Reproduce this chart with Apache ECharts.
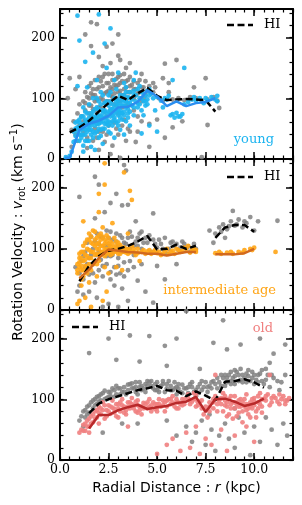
<!DOCTYPE html>
<html><head><meta charset="utf-8">
<script src="https://cdn.jsdelivr.net/npm/echarts@6/dist/echarts.min.js"></script>
<style>html,body{margin:0;padding:0;background:#fff}#c{width:302px;height:505px}</style>
</head><body><div id="c"></div>
<script>
// ---------- tick labels ----------
const radialTicks = ['0.0', '2.5', '5.0', '7.5', '10.0'];
const velocityTicks = [0, 100, 200];

// ---------- panel 1 : young ----------
const hiYoung = [[0.5,44],[1.0,52],[1.5,63],[2.0,78],[2.5,92],[3.0,104],[3.5,97],[4.0,108],[4.5,117],[5.0,104],[5.5,97],[6.0,98],[6.5,99],[7.0,98],[7.5,97],[8.0,78]];
const curveYoung = [[0.25,2],[0.5,2],[1.0,48],[1.5,58],[2.0,63],[2.5,71],[3.0,85],[3.5,86],[4.0,94],[4.5,113],[5.0,103],[5.5,87],[6.0,95],[6.5,87],[7.0,92],[7.5,94],[8.0,100]];
const grayYoung = [[0.5,133],[0.6,48],[0.7,62],[0.8,40],[0.9,75],[1.0,55],[0.9,30],[0.6,20],[1.0,90],
[1.1,70],[1.2,95],[1.2,45],[1.3,80],[1.3,110],[1.4,60],[1.4,35],[1.5,100],[1.5,75],
[1.6,125],[1.6,88],[1.7,65],[1.7,105],[1.8,50],[1.8,95],[1.9,115],[1.9,78],[2.0,135],[2.0,60],
[2.1,100],[2.1,85],[2.2,120],[2.2,45],[2.3,92],[2.3,140],[2.4,70],[2.4,110],[2.5,125],[2.5,95],[2.5,55],
[2.6,105],[2.6,80],[2.7,130],[2.7,115],[2.8,90],[2.8,60],[2.9,120],[2.9,100],[3.0,110],[3.0,75],[3.0,135],
[3.1,95],[3.1,125],[3.2,105],[3.2,85],[3.3,115],[3.3,65],[3.4,100],[3.4,128],[3.5,110],[3.5,90],
[3.6,120],[3.7,100],[3.8,115],[3.8,80],[3.9,105],[4.0,125],[4.1,110],[4.2,95],[4.3,118],[4.4,105],[4.5,112],
[4.7,108],[4.9,118],[5.1,100],[5.3,96],[5.6,110],[5.8,98],[6.1,100],[6.4,97],[6.7,102],[7.0,100],[7.3,96],[7.6,98],[7.9,102],[8.1,96],[8.2,84],
[1.0,135],[1.3,205],[1.6,225],[1.9,222],[1.6,186],[2.4,185],[2.7,190],[3.0,205],[2.6,158],[2.2,153],[3.1,163],[3.4,150],[3.6,158],[3.0,170],[2.0,168],[4.2,140],[0.4,100],[0.8,115],
[5.4,157],[6.0,163],[5.3,133],[5.6,125],[7.5,133],[6.9,118],[4.8,125],[7.6,56],[5.8,52],[5.0,65],[4.6,58],[6.3,62],[4.0,45],[5.4,35],[7.3,3],[3.1,2],[2.6,8],[2.0,15],[1.4,18],[1.7,30],[2.3,28],[3.0,40],[3.5,50],[4.2,62],[3.9,28],[4.6,20]];
const grayYoungCore = [[1.2,62],[1.3,92],[1.4,102],[1.5,88],[1.5,120],[1.6,70],[1.6,108],[1.7,115],[1.7,82],[1.8,130],[1.8,105],[1.9,98],[1.9,68],[2.0,118],[2.0,85],[2.1,128],[2.1,65],[2.2,98],[2.2,135],[2.3,108],[2.3,78],[2.4,125],[2.4,95],[2.5,112],[2.5,140],[2.6,118],[2.6,92],[2.7,102],[2.7,140],[2.8,122],[2.8,108],[2.9,88],[2.9,132],[3.0,122],[3.0,95],[3.1,112],[3.1,138],[3.2,128],[3.2,98],[3.3,105],[3.3,140],[3.4,118],[3.4,88],[3.5,130],[3.5,100],[3.6,110],[3.6,135],[3.7,122],[3.8,128],[3.8,100],[3.9,115],[4.0,108],[4.1,130],[4.2,118],[4.3,100],[4.4,128],[4.6,120],[4.8,110],[2.0,45],[2.4,40],[2.9,50],[3.2,55],[3.6,45],[4.0,70],[3.4,30],[2.7,22],[1.9,35]];
const youngStars = [[0.3,3],[0.5,5],[0.6,12],[0.7,28],[0.8,38],[0.8,60],[0.9,45],[1.0,30],[1.0,52],[1.1,70],[1.1,40],[1.2,58],[1.2,85],[1.3,48],[1.3,65],[1.4,30],[1.4,75],[1.5,55],[1.5,90],[1.6,62],[1.6,40],[1.7,78],[1.7,100],[1.8,55],[1.8,68],[1.9,85],[1.9,45],[2.0,72],[2.0,95],[2.1,60],[2.1,110],[2.2,80],[2.2,50],[2.3,68],[2.3,92],[2.4,75],[2.4,58],[2.5,88],[2.5,105],[2.6,70],[2.6,95],[2.7,62],[2.7,82],[2.8,100],[2.8,75],[2.9,90],[2.9,115],[3.0,80],[3.0,98],[3.1,68],[3.1,105],[3.2,88],[3.3,95],[3.3,78],[3.4,110],[3.5,92],[3.5,82],[3.6,100],[3.7,88],[3.8,105],[3.9,95],[4.0,115],[4.1,90],[4.2,100],[4.3,108],[4.4,95],[4.5,112],[4.6,105],[4.8,100],[5.0,102],[5.2,96],[5.4,100],[5.6,104],[5.7,72],[5.9,68],[6.0,76],[6.2,70],[6.4,90],[6.6,94],[6.8,98],[7.0,96],[7.2,100],[7.4,92],[7.6,96],[7.8,102],[8.0,98],[8.1,104],
[1.0,195],[1.7,175],[2.3,190],[2.0,238],[0.9,120],[1.4,118],[1.9,130],[2.8,130],[3.3,125],[3.0,142],[3.8,130],[3.9,142],[4.3,72],[3.6,55],[4.6,55],[5.0,45],[6.4,150],[5.8,130],[1.2,12],[1.6,20],[2.2,25],[2.8,35],[3.3,40],[4.2,42],[2.4,150],[1.3,160],[4.9,80],[5.3,85],[2.6,215],[0.9,236]];
const youngCore = [[0.7,45],[0.8,50],[0.9,62],[1.0,40],[1.0,60],[1.1,55],[1.1,48],[1.2,70],[1.2,40],[1.3,58],[1.3,78],[1.4,52],[1.4,62],[1.5,68],[1.5,48],[1.6,75],[1.6,55],[1.7,60],[1.7,45],[1.8,82],[1.8,62],[1.9,72],[1.9,58],[2.0,65],[2.0,50],[2.0,82],[2.1,70],[2.1,90],[2.2,62],[2.2,75],[2.3,58],[2.3,80],[2.4,68],[2.4,95],[2.5,62],[2.5,78],[2.6,82],[2.6,60],[2.7,90],[2.7,72],[2.8,85],[2.8,65],[2.9,78],[2.9,95],[3.0,88],[3.0,72],[3.1,92],[3.1,80],[3.2,98],[3.2,75],[3.3,88],[3.3,105],[3.4,85],[3.4,95],[3.5,102],[3.5,75],[3.6,92],[3.6,110],[3.7,98],[3.8,85],[3.8,112],[3.9,105],[4.0,92],[4.1,100],[4.2,110],[4.3,95],[4.4,104],[4.5,98],[4.6,115],[4.7,108],[1.5,30],[2.0,35],[2.5,45],[3.0,55],[1.2,22],[1.8,15],[5.8,74],[6.1,70],[6.3,74],[5.5,98],[6.9,102],[7.5,100],[8.1,95]];
const youngCore2 = [[0.8,30],[0.9,52],[1.0,65],[1.1,35],[1.2,50],[1.3,40],[1.4,45],[1.5,62],[1.6,48],[1.7,70],[1.8,42],[1.9,65],[2.0,58],[2.1,48],[2.2,68],[2.3,50],[2.4,62],[2.5,55],[2.6,75],[2.7,55],[2.8,68],[2.9,60],[3.0,62],[3.1,75],[3.2,65],[3.3,72],[3.4,62],[3.5,68],[3.6,78],[3.8,72],[4.0,85],[4.2,80],[4.4,88],[1.3,30],[1.7,35],[2.1,38],[2.6,42],[3.1,48],[1.9,100],[2.2,105],[2.6,110],[3.4,118],[4.1,120],[4.5,90]];

// ---------- panel 2 : intermediate age ----------
const hiInter = [[1.0,47],[1.5,72],[2.0,88],[2.5,97],[3.0,100],[3.5,105],[4.0,112],[4.5,121],[5.0,99],[5.5,100],[6.0,107],[6.5,100],[7.0,105],[7.5,null],[8.0,118],[8.5,135],[9.0,139],[9.5,139],[10.0,128]];
const curveInter = [[1.0,52],[1.5,66],[2.0,85],[2.5,99],[3.0,97],[3.5,95],[4.0,94],[4.5,92],[5.0,92],[5.5,89],[6.0,92],[6.5,95],[7.0,95],[7.5,null],[8.0,91],[8.5,91],[9.0,91],[9.5,93],[10.0,100]];
const grayInter = [[0.9,30],[1.0,40],[1.0,60],[1.1,80],[1.2,50],[1.3,95],[1.3,70],[1.4,110],[1.5,58],[1.5,85],[1.6,120],[1.7,75],[1.7,100],[1.8,45],[1.9,90],[1.9,125],[2.0,65],[2.0,108],[2.1,82],[2.2,118],[2.2,55],[2.3,95],[2.4,130],[2.4,75],[2.5,105],[2.6,88],[2.6,62],[2.7,115],[2.8,98],[2.8,70],[2.9,125],[3.0,85],[3.0,105],[3.1,60],[3.2,95],[3.2,118],[3.3,78],[3.4,108],[3.5,65],[3.6,100],[3.7,120],[3.8,90],[3.9,112],[4.0,105],[4.1,125],[4.2,100],[4.4,118],[4.5,110],[4.7,95],[4.9,108],[5.1,115],[5.3,100],[5.5,92],[5.7,110],[5.9,105],[6.1,98],[6.3,112],[6.5,100],[6.7,95],[6.9,108],[7.0,100],
[7.7,130],[8.0,125],[8.2,135],[8.4,140],[8.6,132],[8.8,145],[9.0,138],[9.2,148],[9.4,135],[9.6,142],[9.8,152],[10.0,130],[8.9,162],[10.2,145],[11.2,146],[7.9,110],
[1.0,185],[1.8,218],[2.0,205],[3.3,237],[3.4,228],[2.9,190],[3.2,171],[2.3,160],[3.5,172],[4.8,158],[2.6,175],[1.8,150],[3.9,145],[0.8,70],
[1.5,30],[1.9,20],[2.2,5],[2.5,10],[3.0,5],[3.5,15],[4.8,12],[4.4,30],[5.4,50],[3.2,35],[2.8,40],[4.0,48],[6.0,75],[5.0,72],[1.2,25]];
const grayInterCore = [[1.2,88],[1.4,75],[1.6,90],[1.8,112],[2.0,95],[2.1,120],[2.3,105],[2.5,118],[2.6,128],[2.7,90],[2.9,112],[3.1,122],[3.3,110],[3.5,118],[3.6,128],[3.8,105],[4.0,118],[4.2,128],[4.3,110],[4.6,122],[4.8,115],[5.0,102],[5.2,108],[5.4,118],[5.6,100],[5.8,112],[6.0,108],[6.2,102],[6.4,108],[6.6,104],[6.8,100],[2.2,72],[2.6,50],[2.9,58],[3.3,55],[3.6,80],[4.2,75],[1.7,60],[2.4,88],[3.0,72],[3.8,70],[8.3,128],[8.7,137],[9.1,140],[9.5,145],[8.5,118]];
const interStars = [[0.9,75],[0.9,60],[1.0,70],[1.0,85],[1.1,65],[1.1,95],[1.2,80],[1.2,105],[1.3,72],[1.3,90],[1.4,115],[1.4,100],[1.5,85],[1.5,125],[1.6,95],[1.6,110],[1.7,75],[1.7,130],[1.8,105],[1.8,90],[1.9,118],[1.9,100],[2.0,80],[2.0,110],[2.1,125],[2.1,95],[2.2,105],[2.2,135],[2.3,88],[2.3,115],[2.4,100],[2.4,122],[2.5,95],[2.5,108],[2.6,112],[2.6,90],[2.7,100],[2.8,118],[2.8,95],[2.9,105],[3.0,92],[3.0,110],[3.1,98],[3.2,102],[3.3,95],[3.4,100],[3.5,92],[3.6,98],[3.7,105],[3.8,95],[3.9,90],[4.0,100],[4.2,95],[4.4,92],[4.6,98],[4.8,95],[5.0,93],[5.2,90],[5.4,96],[5.6,92],[5.8,97],[6.0,100],[6.2,95],[6.4,102],[6.6,105],[6.8,98],[7.0,95],[8.0,93],[8.3,92],[8.6,94],[8.9,92],[9.2,95],[9.5,98],[9.8,100],[10.0,102],[11.1,95],
[2.3,240],[3.3,225],[3.6,195],[3.7,180],[2.0,190],[2.3,205],[1.2,145],[0.9,10],[1.0,15],[1.6,5],[1.3,20],[2.2,15],[2.4,30],[1.5,45],[1.9,55],[2.5,60],[2.9,70],[1.1,40],[3.2,65],[3.5,125],[2.7,142],[4.1,80],[2.0,160]];
const interCore = [[0.9,65],[1.0,78],[1.0,92],[1.1,72],[1.1,85],[1.2,65],[1.2,95],[1.3,82],[1.3,110],[1.4,88],[1.4,70],[1.5,98],[1.5,115],[1.5,75],[1.6,85],[1.6,120],[1.7,95],[1.7,108],[1.8,115],[1.8,80],[1.8,128],[1.9,92],[1.9,108],[2.0,100],[2.0,122],[2.0,90],[2.1,105],[2.1,115],[2.2,95],[2.2,120],[2.3,100],[2.3,108],[2.4,92],[2.4,112],[2.5,100],[2.5,118],[2.6,98],[2.6,104],[2.7,108],[2.7,92],[2.8,102],[2.9,96],[2.9,112],[3.0,100],[3.1,92],[3.1,106],[3.2,96],[3.3,102],[3.4,94],[3.5,100],[3.6,94],[3.8,100],[4.0,93],[4.3,98],[4.5,96],[4.7,92],[4.9,98],[5.1,95],[5.3,92],[5.5,100],[5.7,95],[5.9,92],[6.1,98],[6.3,96],[6.5,100],[6.7,94],[6.9,100],[7.0,98],[8.2,95],[8.8,95],[9.4,94],[9.9,98],[1.2,55],[1.4,60],[1.6,65],[1.1,50],[1.9,75],[2.3,70]];

// ---------- panel 3 : old ----------
const hiOld = [[1.5,77],[2.0,93],[2.5,100],[3.0,105],[3.5,110],[4.0,115],[4.5,118],[5.0,122],[5.5,115],[6.0,114],[6.5,105],[7.0,113],[7.5,106],[8.0,98],[8.5,129],[9.0,130],[9.5,133],[10.0,128],[10.5,119]];
const curveOld = [[1.5,52],[2.0,74],[2.5,74],[3.0,82],[3.5,87],[4.0,91],[4.5,84],[5.0,87],[5.5,89],[6.0,94],[6.5,96],[7.0,104],[7.5,79],[8.0,100],[8.5,101],[9.0,96],[9.5,89],[10.0,93],[10.5,101]];
const grayOld = [[1.0,65],[1.1,72],[1.2,80],[1.3,70],[1.4,88],[1.5,78],[1.6,95],[1.7,85],[1.8,100],[1.9,92],[2.0,105],[2.1,98],[2.2,110],[2.4,102],[2.5,112],[2.6,105],[2.8,115],[2.9,108],[3.0,118],[3.2,112],[3.3,120],[3.5,115],[3.6,125],[3.8,118],[3.9,128],[4.1,120],[4.2,115],[4.4,125],[4.5,130],[4.7,122],[4.8,118],[5.0,128],[5.1,120],[5.3,125],[5.5,118],[5.7,122],[5.8,115],[6.0,120],[6.2,112],[6.4,118],[6.6,110],[6.8,120],[7.0,115],[7.2,125],[7.4,120],[7.6,112],[7.8,118],[8.0,125],[8.2,128],[8.4,135],[8.5,122],[8.7,140],[8.8,130],[9.0,138],[9.1,145],[9.3,132],[9.4,140],[9.6,128],[9.7,148],[9.9,135],[10.0,125],[10.2,140],[10.4,130],[10.6,150],[10.8,120],[11.0,135],[11.3,115],[11.6,140],
[1.2,55],[4.0,60],[5.5,65],[6.0,40],[6.5,55],[6.8,30],[7.0,45],[7.3,65],[7.5,25],[7.8,50],[8.0,15],[8.2,40],[8.5,60],[8.7,35],[9.0,20],[9.2,70],[9.5,45],[9.8,8],[10.0,55],[10.3,30],[10.6,70],[10.9,50],[11.2,25],[11.5,60],[11.7,40],[3.2,60],[2.2,45],[7.7,75],[9.0,85],
[1.5,176],[2.5,200],[3.6,205],[4.6,204],[5.4,188],[6.0,200],[7.9,193],[8.6,182],[9.3,190],[8.4,230],[10.3,200],[11.6,190],[6.5,245],[4.1,162],[11.0,175],[2.9,165],[5.5,155],[10.8,160],[7.2,150]];
const grayOldCore = [[1.3,82],[1.5,90],[1.7,98],[1.9,104],[2.1,108],[2.3,114],[2.5,104],[2.7,118],[2.9,122],[3.1,108],[3.3,112],[3.5,124],[3.7,118],[3.9,112],[4.1,128],[4.3,118],[4.5,122],[4.7,130],[4.9,125],[5.1,112],[5.3,130],[5.5,125],[5.7,115],[5.9,128],[6.1,118],[6.3,124],[6.5,118],[6.7,125],[6.9,112],[7.1,120],[7.3,115],[7.5,128],[7.7,122],[7.9,130],[8.1,118],[8.3,122],[8.5,140],[8.6,128],[8.8,145],[8.9,135],[9.0,125],[9.2,140],[9.3,150],[9.5,135],[9.6,142],[9.8,130],[9.9,145],[10.1,132],[10.3,142],[10.5,125],[10.7,140],[11.2,130],[7.0,105],[6.0,108],[5.0,115],[4.0,108]];
const grayOldBand2 = [[1.4,75],[1.8,90],[2.0,96],[2.3,100],[2.6,112],[2.8,104],[3.1,118],[3.4,108],[3.7,126],[3.9,120],[4.2,122],[4.4,112],[4.6,128],[4.9,115],[5.2,122],[5.4,112],[5.6,130],[5.9,118],[6.1,125],[6.3,110],[6.6,120],[6.8,128],[7.1,110],[7.3,130],[7.6,120],[7.8,128],[8.1,135],[8.3,140],[8.6,135],[8.8,125],[9.0,148],[9.2,130],[9.4,128],[9.7,138],[10.0,140],[10.2,128],[10.4,148],[10.6,132],[10.9,140],[11.4,128]];
const oldStars = [[1.0,45],[1.1,50],[1.2,58],[1.3,48],[1.4,65],[1.5,55],[1.6,72],[1.7,62],[1.8,80],[1.9,70],[2.0,88],[2.1,75],[2.2,95],[2.3,68],[2.4,82],[2.5,90],[2.6,76],[2.7,98],[2.8,84],[2.9,72],[3.0,92],[3.1,80],[3.2,100],[3.3,88],[3.4,75],[3.5,95],[3.6,85],[3.7,102],[3.8,90],[3.9,80],[4.0,98],[4.1,88],[4.2,75],[4.3,94],[4.5,85],[4.6,100],[4.7,80],[4.9,92],[5.0,86],[5.1,100],[5.3,90],[5.4,80],[5.5,98],[5.7,92],[5.8,105],[6.0,95],[6.1,85],[6.3,100],[6.4,92],[6.6,108],[6.7,98],[6.9,110],[7.0,100],[7.1,90],[7.3,85],[7.4,75],[7.6,70],[7.7,88],[7.9,95],[8.0,105],[8.1,80],[8.2,98],[8.4,110],[8.5,90],[8.6,72],[8.7,100],[8.8,85],[8.9,68],[9.0,105],[9.1,92],[9.2,78],[9.3,100],[9.4,62],[9.5,88],[9.6,108],[9.7,75],[9.8,95],[9.9,85],[10.0,102],[10.1,70],[10.2,95],[10.3,110],[10.4,88],[10.5,100],[10.7,108],[10.9,95],[11.1,102],[11.3,92],[11.5,105],[11.7,98],
[5.0,10],[5.5,25],[5.8,35],[6.2,15],[6.5,45],[6.7,20],[7.0,55],[7.2,10],[7.5,35],[7.8,25],[8.3,50],[8.6,15],[9.0,40],[9.6,55],[10.0,30],[3.5,55],[8.0,140],[10.8,140]];
const oldCore = [[1.2,48],[1.4,55],[1.6,60],[1.8,68],[2.0,78],[2.2,82],[2.4,72],[2.6,88],[2.8,78],[3.0,85],[3.2,90],[3.4,82],[3.6,95],[3.8,85],[4.0,90],[4.2,88],[4.4,92],[4.6,88],[4.8,95],[5.0,92],[5.2,88],[5.4,95],[5.6,100],[5.8,95],[6.0,100],[6.2,92],[6.4,98],[6.6,102],[6.8,96],[7.0,108],[7.2,96],[7.5,82],[7.7,95],[7.9,100],[8.1,92],[8.3,102],[8.4,80],[8.5,98],[8.6,88],[8.7,75],[8.8,105],[8.9,95],[9.0,85],[9.1,72],[9.2,98],[9.3,88],[9.4,80],[9.5,100],[9.6,92],[9.7,85],[9.8,70],[9.9,100],[10.0,90],[10.1,80],[10.2,105],[10.3,92],[10.4,78],[10.6,98],[10.8,90],[11.0,105],[11.2,96],[11.4,100],[11.6,92],[11.8,102],[3.0,70],[4.0,78],[5.0,80],[6.0,85],[7.0,88],[2.0,60],[1.5,45]];
const oldBand2 = [[1.3,60],[1.5,68],[1.7,75],[1.9,82],[2.1,85],[2.3,90],[2.5,80],[2.7,86],[2.9,92],[3.1,95],[3.3,78],[3.5,88],[3.7,92],[3.9,96],[4.1,82],[4.3,85],[4.5,95],[4.7,90],[4.9,84],[5.1,92],[5.3,98],[5.5,88],[5.7,100],[5.9,88],[6.1,95],[6.3,90],[6.5,102],[6.7,92],[6.9,100],[7.1,95],[7.3,98],[7.5,88],[7.7,80],[7.9,85],[8.1,100],[8.3,92],[8.5,105],[8.6,95],[8.8,92],[9.0,95],[9.2,88],[9.4,95],[9.6,82],[9.8,88],[10.0,96],[10.2,85],[10.4,100],[10.6,105],[10.9,102],[11.3,108],[11.6,98]];

// ---------- layout / styles ----------
const grids = [
  {left: 60, width: 233, top: 9, height: 150},
  {left: 60, width: 233, top: 159, height: 151},
  {left: 60, width: 233, top: 310, height: 150}
];
const serif = 'DejaVu Serif';
const sans = 'DejaVu Sans';

const xAxes = [], yAxes = [];
function axisBase(g, extra) {
  return Object.assign({
    gridIndex: g, type: 'value', splitLine: {show: false},
    axisLine: {show: false, onZero: false, lineStyle: {color: '#000', width: 2}},
    axisTick: {show: true, inside: true, length: 7, lineStyle: {color: '#000', width: 1.5}},
    axisLabel: {show: false}
  }, extra);
}
const frameLine = {show: true, onZero: false, lineStyle: {color: '#000', width: 2}};
const minorTick = {show: true, inside: true, length: 3.5, lineStyle: {color: '#000', width: 1.2}};
grids.forEach((gr, g) => {
  const showX = g === grids.length - 1;
  xAxes.push(axisBase(g, {min: 0, max: 12, interval: 2.5, position: 'bottom', axisLine: frameLine,
    axisLabel: {show: showX, showMaxLabel: false, margin: 3, fontFamily: serif, fontSize: 12.5, color: '#000',
      formatter: v => radialTicks[Math.round(v / 2.5)] || ''}}));
  xAxes.push(axisBase(g, {min: 0, max: 12, interval: 0.5, position: 'bottom', axisTick: minorTick}));
  xAxes.push(axisBase(g, {min: 0, max: 12, interval: 2.5, position: 'top', axisLine: frameLine}));
  xAxes.push(axisBase(g, {min: 0, max: 12, interval: 0.5, position: 'top', axisTick: minorTick}));

  yAxes.push(axisBase(g, {min: 0, max: 247, interval: 100, position: 'left', axisLine: frameLine,
    axisLabel: {show: true, showMaxLabel: false, margin: 5, fontFamily: serif, fontSize: 12.5, color: '#000',
      formatter: v => velocityTicks.indexOf(v) >= 0 ? String(v) : ''}}));
  yAxes.push(axisBase(g, {min: 0, max: 247, interval: 20, position: 'left', axisTick: minorTick}));
  yAxes.push(axisBase(g, {min: 0, max: 247, interval: 100, position: 'right', axisLine: frameLine}));
  yAxes.push(axisBase(g, {min: 0, max: 247, interval: 20, position: 'right', axisTick: minorTick}));
});

function scatter(g, data, color, size, opacity, z) {
  return {type: 'scatter', xAxisIndex: g * 4, yAxisIndex: g * 4, data: data, symbolSize: size,
    itemStyle: {color: color, opacity: opacity}, silent: true, z: z, large: false};
}
function line(g, data, color, width, dashed, z) {
  return {type: 'line', xAxisIndex: g * 4, yAxisIndex: g * 4, data: data, showSymbol: false, symbol: 'none',
    connectNulls: false, silent: true, z: z,
    lineStyle: {color: color, width: width, type: dashed ? [7, 3.5] : 'solid', cap: 'butt'}};
}

const GRAY = '#808080', YOUNG = '#1cb4f0', INTER = '#ffa516', OLD = '#f08080';
const series = [
  scatter(0, grayYoung.concat(grayYoungCore), GRAY, 4.8, 0.85, 2),
  scatter(0, youngStars.concat(youngCore, youngCore2), YOUNG, 4.8, 0.9, 3),
  line(0, hiYoung, '#000', 2.5, true, 5),
  line(0, curveYoung, '#2a8ef0', 2.5, false, 6),
  scatter(1, grayInter.concat(grayInterCore), GRAY, 4.8, 0.85, 2),
  scatter(1, interStars.concat(interCore), INTER, 4.8, 0.9, 3),
  line(1, hiInter, '#000', 2.5, true, 5),
  line(1, curveInter, '#d2691e', 2.5, false, 6),
  scatter(2, grayOld.concat(grayOldCore, grayOldBand2), GRAY, 4.8, 0.85, 2),
  scatter(2, oldStars.concat(oldCore, oldBand2), OLD, 4.8, 0.9, 3),
  line(2, hiOld, '#000', 2.5, true, 5),
  line(2, curveOld, '#b8292a', 2.5, false, 6)
];

function legendLine(x, y) {
  return {type: 'line', shape: {x1: x, y1: y, x2: x + 26, y2: y}, z: 100,
    style: {stroke: '#000', lineWidth: 2.5, lineDash: [7, 3.5]}};
}
function label(text, x, y, color, align) {
  return {type: 'text', z: 100, style: {text: text, x: x, y: y, fill: color, align: align || 'left',
    verticalAlign: 'middle', font: '13px "' + serif + '"'}};
}

const graphic = [
  legendLine(227, 25), label('HI', 264, 25, '#000'),
  legendLine(227, 177), label('HI', 264, 177, '#000'),
  legendLine(72, 327), label('HI', 109, 327, '#000'),
  label('young', 274, 140, YOUNG, 'right'),
  label('intermediate age', 276, 291, INTER, 'right'),
  label('old', 273, 329, OLD, 'right'),
  {type: 'text', z: 100, x: 176.5, y: 488, style: {
    text: '{n|Radial Distance : }{i|r}{n| (kpc)}', align: 'center', verticalAlign: 'middle',
    rich: {n: {fontFamily: sans, fontSize: 14, fill: '#000'}, i: {fontFamily: sans, fontStyle: 'italic', fontSize: 14, fill: '#000'}}}},
  {type: 'text', z: 100, x: 18, y: 232, rotation: Math.PI / 2, style: {
    text: '{n|Rotation Velocity : }{i|v}{s|rot}{n| (km s}{p|−1}{n|)}', align: 'center', verticalAlign: 'middle',
    rich: {
      n: {fontFamily: sans, fontSize: 14, fill: '#000', lineHeight: 18},
      i: {fontFamily: sans, fontStyle: 'italic', fontSize: 14, fill: '#000', lineHeight: 18},
      s: {fontFamily: sans, fontSize: 10, fill: '#000', verticalAlign: 'bottom', lineHeight: 18},
      p: {fontFamily: sans, fontSize: 10, fill: '#000', verticalAlign: 'top', lineHeight: 18}
    }}}
];

const chart = echarts.init(document.getElementById('c'), null, {renderer: 'canvas'});
chart.setOption({
  animation: false,
  backgroundColor: '#fff',
  grid: grids,
  xAxis: xAxes,
  yAxis: yAxes,
  series: series,
  graphic: graphic
});
</script>
</body></html>
